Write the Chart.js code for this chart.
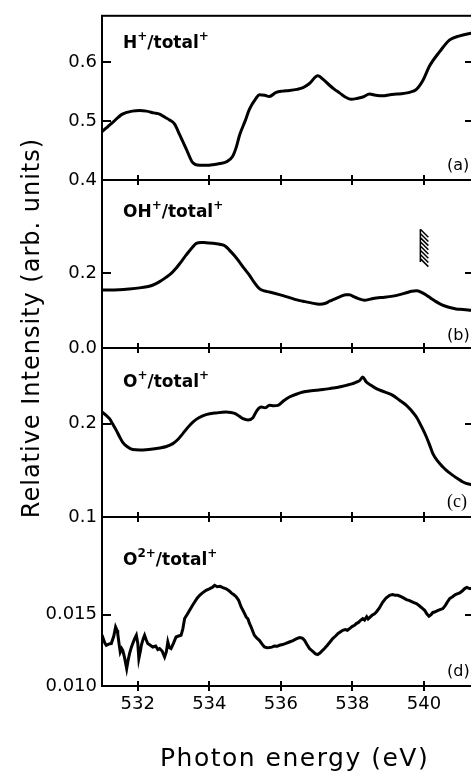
<!DOCTYPE html>
<html>
<head>
<meta charset="utf-8">
<title>Relative ion yields</title>
<script src="https://cdn.jsdelivr.net/npm/chart.js@4.4.0/dist/chart.umd.min.js"></script>
<style>
  html, body { margin: 0; padding: 0; background: #fff; overflow: hidden; }
  #figure { position: relative; width: 476px; height: 777px; font-family: "DejaVu Sans", sans-serif; color: #000; }
  #figure canvas { position: absolute; left: 0; top: 0; }
  .ion { position: absolute; left: 123px; font-weight: bold; font-size: 17px; line-height: 17px; white-space: nowrap; }
  .ion span { font-size: 12px; position: relative; top: -8px; }
  .tag { position: absolute; left: 447px; font-size: 16px; line-height: 16px; white-space: nowrap; }
  #ytitle { position: absolute; left: -169px; top: 313px; width: 400px; height: 30px; line-height: 30px;
            text-align: center; font-size: 24px; letter-spacing: 1px; transform: rotate(-90deg); white-space: nowrap; }
  #xtitle { position: absolute; left: 160px; top: 745px; font-size: 25px; line-height: 25px; letter-spacing: 1.5px; white-space: nowrap; }
</style>
</head>
<body>
<div id="figure">
  <canvas id="panelA" width="476" height="777"></canvas>
  <canvas id="panelB" width="476" height="777"></canvas>
  <canvas id="panelC" width="476" height="777"></canvas>
  <canvas id="panelD" width="476" height="777"></canvas>

  <div class="ion" style="top:34px">H<span>+</span>/total<span>+</span></div>
  <div class="ion" style="top:203px">OH<span>+</span>/total<span>+</span></div>
  <div class="ion" style="top:373px">O<span>+</span>/total<span>+</span></div>
  <div class="ion" style="top:551px">O<span>2+</span>/total<span>+</span></div>

  <div class="tag" style="top:157px">(a)</div>
  <div class="tag" style="top:327px">(b)</div>
  <div class="tag" style="top:492px; font-family:'Liberation Serif', serif; font-size:18px; line-height:18px;">(c)</div>
  <div class="tag" style="top:663px">(d)</div>

  <div id="ytitle">Relative Intensity (arb. units)</div>
  <div id="xtitle">Photon energy (eV)</div>
</div>

<script>
// photon energy ticks shared by all panels
const energyTicks = [532, 534, 536, 538, 540];

// (a) H+/total+
const energyH = [531.0, 531.15, 531.3, 531.57, 531.85, 532.05, 532.24, 532.45, 532.61, 532.75, 532.89, 533.03,
  533.17, 533.36, 533.53, 533.73, 533.92, 534.1, 534.29, 534.48, 534.65, 534.75, 534.85, 535.0, 535.12, 535.31,
  535.4, 535.55, 535.68, 535.87, 536.05, 536.24, 536.45, 536.62, 536.8, 537.03, 537.2, 537.36, 537.5, 537.64,
  537.8, 537.97, 538.15, 538.29, 538.48, 538.65, 538.85, 539.05, 539.23, 539.42, 539.6, 539.79, 539.97, 540.16,
  540.44, 540.72, 541.0, 541.28, 541.4];
const ratioH = [0.482, 0.490, 0.498, 0.512, 0.517, 0.518, 0.517, 0.514, 0.512, 0.507, 0.502, 0.495,
  0.477, 0.452, 0.430, 0.425, 0.425, 0.426, 0.428, 0.431, 0.440, 0.455, 0.477, 0.500, 0.520, 0.539,
  0.545, 0.544, 0.542, 0.549, 0.551, 0.552, 0.554, 0.557, 0.564, 0.577, 0.570, 0.561, 0.554, 0.548,
  0.541, 0.537, 0.539, 0.541, 0.546, 0.544, 0.543, 0.545, 0.546, 0.547, 0.549, 0.554, 0.569, 0.594,
  0.618, 0.638, 0.645, 0.649, 0.650];
const ticksH = [0.4, 0.5, 0.6];

// (b) OH+/total+
const energyOH = [531.0, 531.25, 531.49, 531.75, 532.05, 532.25, 532.41, 532.6, 532.79, 532.95, 533.07, 533.2,
  533.35, 533.5, 533.63, 533.78, 533.91, 534.1, 534.29, 534.45, 534.56, 534.7, 534.84, 534.98, 535.12, 535.26,
  535.4, 535.54, 535.68, 535.96, 536.24, 536.45, 536.62, 536.85, 537.08, 537.25, 537.36, 537.52, 537.69, 537.82,
  537.92, 538.05, 538.15, 538.34, 538.5, 538.67, 538.9, 539.13, 539.32, 539.51, 539.66, 539.79, 539.93, 540.07,
  540.2, 540.35, 540.52, 540.72, 540.9, 541.09, 541.28, 541.4];
const ratioOH = [0.154, 0.154, 0.155, 0.157, 0.160, 0.163, 0.167, 0.176, 0.188, 0.200, 0.212, 0.228,
  0.247, 0.265, 0.278, 0.281, 0.280, 0.279, 0.276, 0.271, 0.2605, 0.246, 0.229, 0.211, 0.194, 0.174,
  0.158, 0.152, 0.149, 0.142, 0.134, 0.128, 0.1245, 0.120, 0.1165, 0.119, 0.1245, 0.131, 0.138, 0.142,
  0.142, 0.136, 0.132, 0.127, 0.130, 0.133, 0.135, 0.138, 0.142, 0.147, 0.151, 0.152, 0.148, 0.1405,
  0.132, 0.1227, 0.114, 0.1077, 0.104, 0.1024, 0.1005, 0.100];
const ticksOH = [0.0, 0.2];
// threshold marker drawn in panel (b)
const edgeEnergy = 539.9;
const edgeRange = [0.229, 0.316];

// (c) O+/total+
const energyO = [531.0, 531.1, 531.21, 531.3, 531.4, 531.49, 531.58, 531.7, 531.86, 532.05, 532.23, 532.42,
  532.61, 532.8, 532.98, 533.12, 533.26, 533.4, 533.54, 533.72, 533.91, 534.2, 534.47, 534.6, 534.74, 534.84,
  534.94, 535.08, 535.22, 535.33, 535.45, 535.56, 535.68, 535.8, 535.92, 536.08, 536.24, 536.43, 536.62, 536.8,
  536.99, 537.18, 537.36, 537.6, 537.83, 537.98, 538.11, 538.2, 538.29, 538.39, 538.52, 538.67, 538.9, 539.13,
  539.32, 539.51, 539.65, 539.79, 539.93, 540.07, 540.16, 540.25, 540.38, 540.53, 540.67, 540.81, 540.95, 541.09,
  541.28, 541.4];
const ratioO = [0.2124, 0.2095, 0.2053, 0.1995, 0.1928, 0.1860, 0.1800, 0.1755, 0.1722, 0.1718, 0.1720, 0.1728,
  0.1739, 0.1755, 0.1786, 0.1830, 0.1893, 0.1960, 0.2017, 0.2065, 0.2096, 0.2115, 0.2124, 0.2120, 0.2105, 0.2078,
  0.2053, 0.2040, 0.2064, 0.2140, 0.2178, 0.2170, 0.2196, 0.2192, 0.2196, 0.2245, 0.2285, 0.2315, 0.2338, 0.2350,
  0.2357, 0.2365, 0.2375, 0.2390, 0.2410, 0.2425, 0.2445, 0.2460, 0.2499, 0.2445, 0.2410, 0.2375, 0.2340, 0.2303,
  0.2250, 0.2196, 0.2140, 0.2071, 0.1970, 0.1857, 0.1770, 0.1679, 0.1600, 0.1535, 0.1485, 0.1446, 0.1410, 0.1375,
  0.1350, 0.1345];
const ticksO = [0.1, 0.2];

// (d) O2+/total+
const energyO2 = [531.0, 531.03, 531.08, 531.12, 531.2, 531.26, 531.33, 531.38, 531.42, 531.44, 531.48, 531.51,
  531.55, 531.58, 531.63, 531.69, 531.73, 531.77, 531.82, 531.86, 531.91, 531.96, 532.0, 532.03, 532.07, 532.1,
  532.15, 532.19, 532.24, 532.28, 532.35, 532.42, 532.5, 532.56, 532.61, 532.68, 532.75, 532.8, 532.84, 532.88,
  532.93, 533.0, 533.07, 533.14, 533.21, 533.26, 533.31, 533.38, 533.45, 533.52, 533.59, 533.66, 533.73, 533.8,
  533.91, 534.0, 534.08, 534.15, 534.22, 534.3, 534.38, 534.47, 534.56, 534.62, 534.68, 534.75, 534.82, 534.89,
  534.96, 535.03, 535.08, 535.12, 535.17, 535.22, 535.26, 535.33, 535.4, 535.47, 535.54, 535.61, 535.68, 535.75,
  535.82, 535.9, 535.96, 536.05, 536.14, 536.24, 536.34, 536.43, 536.52, 536.6, 536.66, 536.73, 536.8, 536.9,
  536.97, 537.03, 537.1, 537.16, 537.22, 537.3, 537.38, 537.45, 537.53, 537.6, 537.67, 537.73, 537.8, 537.86,
  537.92, 538.0, 538.06, 538.11, 538.17, 538.23, 538.29, 538.34, 538.4, 538.44, 538.48, 538.55, 538.62, 538.67,
  538.75, 538.85, 538.94, 539.04, 539.12, 539.2, 539.27, 539.36, 539.44, 539.51, 539.6, 539.7, 539.79, 539.88,
  539.95, 540.02, 540.08, 540.14, 540.2, 540.25, 540.3, 540.38, 540.45, 540.53, 540.6, 540.66, 540.72, 540.8,
  540.88, 541.0, 541.07, 541.14, 541.2, 541.28, 541.4];
const ratioO2 = [0.01320, 0.01335, 0.01300, 0.01285, 0.01295, 0.01297, 0.01350, 0.01413, 0.01390, 0.01367, 0.01290, 0.01238,
  0.01262, 0.01250, 0.01200, 0.01122, 0.01180, 0.01227, 0.01270, 0.01297, 0.01330, 0.01355, 0.01300, 0.01192, 0.01240, 0.01285,
  0.01330, 0.01355, 0.01320, 0.01297, 0.01285, 0.01273, 0.01280, 0.01255, 0.01262, 0.01245, 0.01203, 0.01240, 0.01308, 0.01270,
  0.01262, 0.01300, 0.01343, 0.01350, 0.01355, 0.01400, 0.01472, 0.01500, 0.01530, 0.01560, 0.01588, 0.01615, 0.01635, 0.01650,
  0.01670, 0.01680, 0.01690, 0.01705, 0.01695, 0.01698, 0.01689, 0.01680, 0.01665, 0.01650, 0.01640, 0.01625, 0.01600, 0.01553,
  0.01520, 0.01483, 0.01470, 0.01440, 0.01413, 0.01380, 0.01355, 0.01335, 0.01320, 0.01295, 0.01273, 0.01268, 0.01269, 0.01272,
  0.01280, 0.01278, 0.01285, 0.01290, 0.01298, 0.01308, 0.01318, 0.01330, 0.01339, 0.01335, 0.01320, 0.01290, 0.01262, 0.01240,
  0.01225, 0.01220, 0.01232, 0.01248, 0.01262, 0.01285, 0.01310, 0.01332, 0.01350, 0.01368, 0.01380, 0.01390, 0.01395, 0.01390,
  0.01402, 0.01418, 0.01425, 0.01437, 0.01445, 0.01460, 0.01472, 0.01462, 0.01485, 0.01470, 0.01479, 0.01495, 0.01505, 0.01518,
  0.01545, 0.01588, 0.01615, 0.01635, 0.01640, 0.01636, 0.01635, 0.01625, 0.01615, 0.01605, 0.01598, 0.01585, 0.01577, 0.01560,
  0.01545, 0.01530, 0.01505, 0.01488, 0.01500, 0.01515, 0.01518, 0.01528, 0.01535, 0.01542, 0.01565, 0.01590, 0.01612, 0.01625,
  0.01640, 0.01651, 0.01665, 0.01682, 0.01690, 0.01682, 0.01680];
const ticksO2 = [0.010, 0.015];

const FONT = '"DejaVu Sans", sans-serif';
const PAGE_H = 777;

// frame, crossing x ticks, inward y ticks and the optional threshold hatch
const frameTicks = {
  id: 'frameTicks',
  afterDraw(chart, args, opts) {
    const { ctx, chartArea: a, scales: { x, y } } = chart;
    ctx.save();
    ctx.strokeStyle = '#000';
    ctx.lineWidth = 2;
    ctx.strokeRect(a.left, a.top, a.right - a.left, a.bottom - a.top);
    ctx.beginPath();
    energyTicks.forEach(v => {
      const px = Math.round(x.getPixelForValue(v));
      ctx.moveTo(px, a.bottom - 5);
      ctx.lineTo(px, a.bottom + 5);
    });
    y.ticks.forEach(t => {
      const py = Math.round(y.getPixelForValue(t.value));
      ctx.moveTo(a.left, py); ctx.lineTo(a.left + 9, py);
      ctx.moveTo(a.right - 9, py); ctx.lineTo(a.right, py);
    });
    ctx.stroke();

    if (opts.edge) {
      const ex = x.getPixelForValue(opts.edge.x);
      const y0 = y.getPixelForValue(opts.edge.range[1]);
      const y1 = y.getPixelForValue(opts.edge.range[0]);
      ctx.lineWidth = 1.5;
      ctx.beginPath();
      ctx.moveTo(ex, y0); ctx.lineTo(ex, y1);
      for (let yy = y0; yy < y1; yy += 4.2) {
        ctx.moveTo(ex, yy); ctx.lineTo(ex + 8, yy + 8);
      }
      ctx.stroke();
    }
    ctx.restore();
  }
};

function makePanel(id, energy, ratio, yTicks, yMin, yMax, decimals, top, bottom, extra) {
  const showX = !!extra.showX;
  const xHeight = showX ? 40 : 0;
  const points = energy.map((e, i) => ({ x: e, y: ratio[i] }));

  return new Chart(document.getElementById(id), {
    type: 'line',
    data: {
      datasets: [{
        data: points,
        borderColor: '#000',
        borderWidth: 3,
        pointRadius: 0,
        fill: false,
        tension: extra.smooth ? 0.4 : 0,
        cubicInterpolationMode: extra.smooth ? 'monotone' : 'default'
      }]
    },
    options: {
      responsive: false,
      animation: false,
      events: [],
      layout: { padding: { top: top, bottom: PAGE_H - bottom - xHeight, left: 0, right: 2 } },
      plugins: {
        legend: { display: false },
        tooltip: { enabled: false },
        frameTicks: { edge: extra.edge }
      },
      scales: {
        x: {
          type: 'linear',
          min: 531,
          max: 541.4,
          display: showX,
          afterBuildTicks: s => { s.ticks = energyTicks.map(v => ({ value: v })); },
          afterFit: s => { s.height = xHeight; },
          grid: { display: false, drawTicks: false },
          border: { display: false },
          ticks: { color: '#000', font: { family: FONT, size: 18 }, padding: 8, maxRotation: 0, autoSkip: false }
        },
        y: {
          min: yMin,
          max: yMax,
          afterBuildTicks: s => { s.ticks = yTicks.map(v => ({ value: v })); },
          afterFit: s => { s.width = 102; },
          grid: { display: false, drawTicks: false },
          border: { display: false },
          ticks: {
            color: '#000',
            font: { family: FONT, size: 18 },
            padding: 5,
            callback: v => Number(v).toFixed(decimals)
          }
        }
      }
    },
    plugins: [frameTicks]
  });
}

makePanel('panelA', energyH, ratioH, ticksH, 0.4, 0.679, 1, 10, 180, { smooth: true });
makePanel('panelB', energyOH, ratioOH, ticksOH, 0.0, 0.447, 1, 180, 348,
  { smooth: true, edge: { x: edgeEnergy, range: edgeRange } });
makePanel('panelC', energyO, ratioO, ticksO, 0.1, 0.281, 1, 348, 517, { smooth: true });
makePanel('panelD', energyO2, ratioO2, ticksO2, 0.010, 0.02183, 3, 517, 686, { showX: true });
</script>
</body>
</html>
